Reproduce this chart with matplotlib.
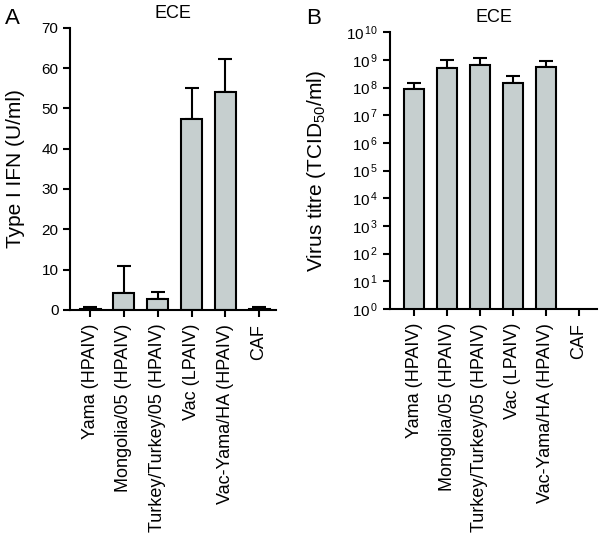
import numpy as np
import matplotlib
matplotlib.use("Agg")
import matplotlib.pyplot as plt
from matplotlib.ticker import FixedLocator

plt.rcParams['font.family'] = ['Liberation Sans', 'DejaVu Sans']
plt.rcParams['mathtext.fontset'] = 'custom'
plt.rcParams['mathtext.rm'] = 'Liberation Sans'
plt.rcParams['mathtext.it'] = 'Liberation Sans'

viruses = ['Yama (HPAIV)', 'Mongolia/05 (HPAIV)', 'Turkey/Turkey/05 (HPAIV)',
           'Vac (LPAIV)', 'Vac-Yama/HA (HPAIV)', 'CAF']

# panel A: type I IFN (U/ml)
ifn_mean = [0.3, 4.2, 2.6, 47.3, 54.2, 0.3]
ifn_err = [0.3, 6.8, 1.7, 7.7, 8.1, 0.4]

# panel B: virus titre (TCID50/ml)
titre_mean = [8.9e7, 5.0e8, 6.3e8, 1.4e8, 5.5e8, 0]
titre_err = [5.1e7, 4.5e8, 5.2e8, 1.2e8, 3.8e8, 0]

bar_col = '#c6cfcf'
fig = plt.figure(figsize=(6, 5.36), dpi=100)

def style(ax):
    for s in ['top', 'right']:
        ax.spines[s].set_visible(False)
    for s in ['left', 'bottom']:
        ax.spines[s].set_linewidth(1.5)
    ax.tick_params(axis='both', width=1.5, length=5, labelsize=11)
    ax.tick_params(axis='x', pad=5)
    ax.set_xticks(range(len(viruses)))
    ax.set_xticklabels(viruses, rotation=90, fontsize=13)
    ax.set_title('ECE', fontsize=13, pad=7)

ax1 = fig.add_axes([0.117, 0.422, 0.343, 0.526])
x = np.arange(len(viruses))
ax1.bar(x, ifn_mean, width=0.62, color=bar_col, edgecolor='black', linewidth=1.5, zorder=2)
ax1.errorbar(x, ifn_mean, yerr=[np.zeros(len(x)), ifn_err], fmt='none',
             ecolor='black', elinewidth=1.5, capsize=5, capthick=1.5, zorder=1)
ax1.set_xlim(-0.59, 5.5)
ax1.set_ylim(0, 70)
ax1.set_yticks(range(0, 71, 10))
ax1.set_ylabel('Type I IFN (U/ml)', fontsize=15, labelpad=12)
style(ax1)
fig.text(0.008, 0.955, 'A', fontsize=16)

ax2 = fig.add_axes([0.65, 0.4235, 0.345, 0.5165])
ax2.bar(x, titre_mean, width=0.62, color=bar_col, edgecolor='black', linewidth=1.5, zorder=2)
ax2.errorbar(x[:5], titre_mean[:5], yerr=[np.zeros(5), titre_err[:5]], fmt='none',
             ecolor='black', elinewidth=1.5, capsize=5, capthick=1.5, zorder=1)
ax2.set_yscale('log')
ax2.set_ylim(1, 1e10)
ax2.yaxis.set_major_locator(FixedLocator([10.0 ** k for k in range(11)]))
ax2.yaxis.set_minor_locator(FixedLocator([]))
ax2.set_yticklabels(['$10^{\\,%d}$' % k for k in range(11)])
ax2.set_xlim(-0.73, 5.55)
ax2.set_ylabel('Virus titre (TCID$_{50}$/ml)', fontsize=15, labelpad=13)
style(ax2)
fig.text(0.51, 0.955, 'B', fontsize=16)

fig.savefig('out.png', dpi=100)
